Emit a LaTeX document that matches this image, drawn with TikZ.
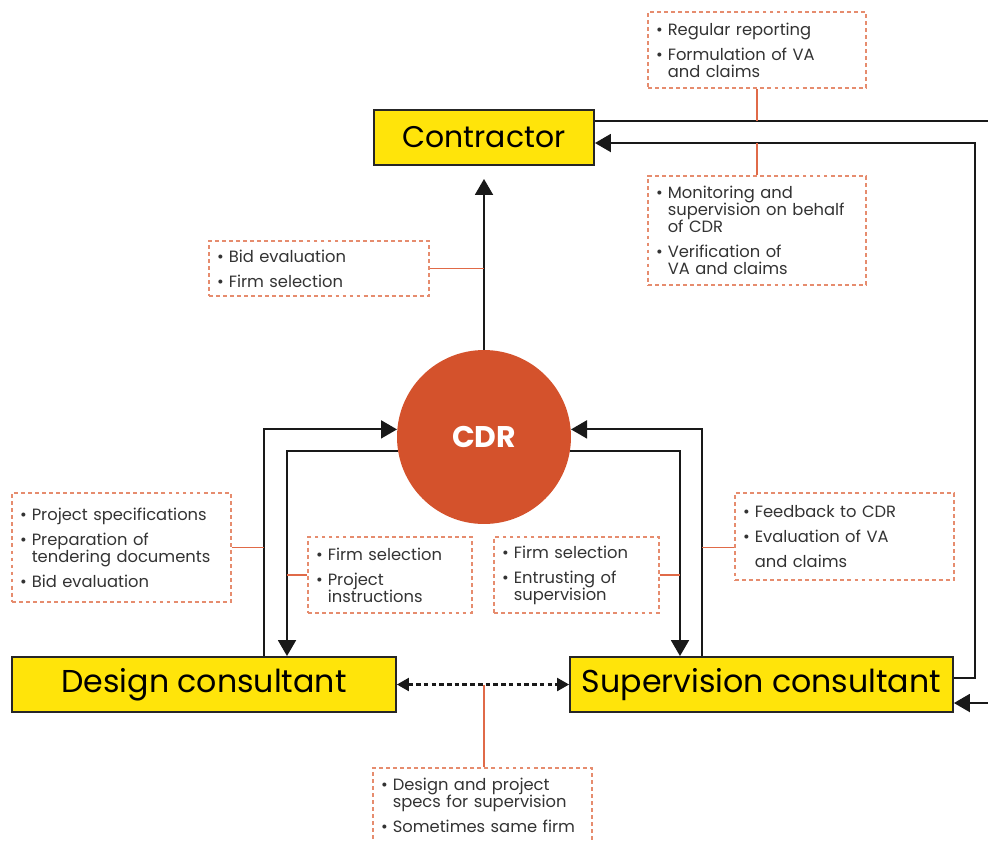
\documentclass[tikz,border=0pt]{standalone}
\usepackage{fontspec}
\setmainfont{Poppins}
\usetikzlibrary{arrows.meta}
\definecolor{boxyellow}{HTML}{FFE40A}
\definecolor{cdrorange}{HTML}{D4522C}
\definecolor{notecol}{HTML}{E68C6E}
\definecolor{tiecol}{HTML}{E06A48}
\newcommand{\blt}{\makebox[0.72em][l]{\textbullet}}
\newcommand{\ind}{\hspace*{0.72em}}
\hyphenpenalty=10000
\begin{document}
\begin{tikzpicture}[x=0.02cm, y=-0.02cm,
	actor/.style={draw=black!85, line width=1.1pt, fill=boxyellow, minimum height=1.1cm, font=\fontsize{18}{20}\selectfont},
	note/.style={draw=notecol, line width=0.9pt, dash pattern=on 2.2pt off 1.8pt, align=left, inner xsep=0.16cm, text=black!80, font=\fontsize{9.3}{9.7}\selectfont},
	flow/.style={line width=1.1pt, black!90, -{Triangle[length=0.32cm,width=0.36cm]}},
	link/.style={line width=1.1pt, black!90},
	tie/.style={tiecol, line width=0.8pt},
	dotflow/.style={line width=1.3pt, black!90, dash pattern=on 2.6pt off 1.8pt, {Triangle[length=0.24cm,width=0.26cm]}-{Triangle[length=0.24cm,width=0.26cm]}}]
	\useasboundingbox (0,0) rectangle (988,840);

	%% Akteure
	\node[actor, minimum width=4.4cm, font=\fontsize{17}{19}\selectfont] (contr) at (484,137.5) {Contractor};
	\node[circle, fill=cdrorange, minimum size=3.48cm, text=white, font=\fontsize{17}{19}\selectfont\bfseries] (cdr) at (484,437) {CDR};
	\node[actor, minimum width=7.68cm] (design) at (204,684.5) {Design consultant};
	\node[actor, minimum width=7.66cm] (superv) at (761.5,684.5) {Supervision consultant};

	%% Spuren
	\coordinate (laneA) at (264,0);
	\coordinate (laneB) at (287,0);
	\coordinate (laneC) at (680,0);
	\coordinate (laneD) at (702,0);
	\coordinate (out1) at (990,121);
	\coordinate (ret) at (975,143);
	\coordinate (sret) at (975,678);
	\coordinate (in2) at (990,703);

	%%%%%%%%%%%%%%%%

	%% Pfeile
	\draw[flow, shorten >=0.26cm] (cdr.north) -- (contr.south);
	\draw[flow] (design.north -| laneA) |- (cdr.175);
	\draw[flow] (cdr.189) -| (design.north -| laneB);
	\draw[flow] (superv.north -| laneD) |- (cdr.5);
	\draw[flow] (cdr.-9) -| (superv.north -| laneC);
	\draw[link] (contr.east |- out1) -- (out1);
	\draw[flow] (superv.east |- sret) -- (sret) -- (ret) -- (contr.east |- ret);
	\draw[flow] (in2) -- (superv.east |- in2);
	\draw[dotflow] (design.east) -- (superv.west);

	%%%%%%%%%%%%%%%%

	%% Notizen
	\node[note, text width=4.04cm, minimum height=1.52cm] (report) at (757,50)
		{\blt Regular reporting\\[4.5pt]\blt Formulation of VA\\\ind and claims};
	\node[note, text width=4.04cm, minimum height=2.18cm] (monitor) at (757,230.5)
		{\blt Monitoring and\\\ind supervision on behalf\\\ind of CDR\\[4.5pt]\blt Verification of\\\ind VA and claims};
	\node[note, text width=4.08cm, minimum height=1.1cm] (bid) at (319,268.5)
		{\blt Bid evaluation\\[4.5pt]\blt Firm selection};
	\node[note, text width=4.06cm, minimum height=2.18cm] (specs) at (121.5,547.5)
		{\blt Project specifications\\[4.5pt]\blt Preparation of\\\ind tendering documents\\[4.5pt]\blt Bid evaluation};
	\node[note, text width=2.96cm, minimum height=1.52cm] (firmA) at (390,575)
		{\blt Firm selection\\[4.5pt]\blt Project\\\ind instructions};
	\node[note, text width=2.98cm, minimum height=1.52cm] (firmB) at (576.5,575)
		{\blt Firm selection\\[4.5pt]\blt Entrusting of\\\ind supervision};
	\node[note, text width=4.06cm, minimum height=1.74cm] (feed) at (844.5,536.5)
		{\blt Feedback to CDR\\[4.5pt]\blt Evaluation of VA\\[4.5pt]\ind and claims};
	\node[note, text width=4.06cm, minimum height=1.7cm, anchor=north] (specsup) at (482.5,767)
		{\blt Design and project\\\ind specs for supervision\\[4.5pt]\blt Sometimes same firm\\[-4pt]\mbox{}};

	%% Verbindungen
	\draw[tie] (report.south) -- (report.south |- out1);
	\draw[tie] (monitor.north) -- (monitor.north |- ret);
	\draw[tie] (bid.east) -- (bid.east -| cdr);
	\draw[tie] (specs.east) -- (specs.east -| laneA);
	\draw[tie] (firmA.west) -- (firmA.west -| laneB);
	\draw[tie] (firmB.east) -- (firmB.east -| laneC);
	\draw[tie] (feed.west |- specs.east) -- (specs.east -| laneD);
	\draw[tie] (specsup.north -| cdr) -- (design.east -| cdr);
\end{tikzpicture}
\end{document}
